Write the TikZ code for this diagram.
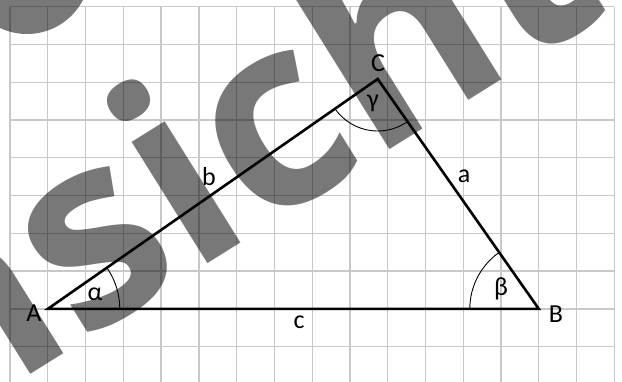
\documentclass[tikz,border=0pt]{standalone}
\usepackage{fontspec}
\setmainfont{Carlito}
\newfontfamily\wmfont{Open Sans}
\usetikzlibrary{angles}
\definecolor{gridgray}{HTML}{C8C8C8}
\begin{document}
\begin{tikzpicture}[x=1pt,y=1pt,
  gridline/.style={draw=gridgray, line width=1.3pt},
  side/.style={line width=2.6pt, line join=miter, line cap=butt},
  anglearc/.style={draw, line width=0.9pt},
  lbl/.style={font=\fontsize{26}{30}\selectfont, inner sep=0pt},
  wm/.style={font=\wmfont\fontsize{262}{262}\selectfont\bfseries, text=black, text opacity=0.53, inner sep=0pt}]
\useasboundingbox (0,0) rectangle (622,-382);
\clip (0,0) rectangle (622,-382);
\fill[white] (0,0) rectangle (622,-382);
% grid
\foreach \i in {0,...,16} \draw[gridline] ({10+37.77*\i},-6.7) -- ({10+37.77*\i},-382);
\foreach \j in {0,...,9} \draw[gridline] (10,{-6.7-37.77*\j}) -- (614.3,{-6.7-37.77*\j});
% triangle
\coordinate (A) at (47.8,-308.9);
\coordinate (B) at (538.8,-308.9);
\coordinate (C) at (377.7,-79);
\draw[side] (A) -- (B) -- (C) -- cycle;
\pic[anglearc, angle radius=72pt] {angle = B--A--C};
\pic[anglearc, angle radius=69pt] {angle = C--B--A};
\pic[anglearc, angle radius=52pt] {angle = A--C--B};
% labels
\node[lbl] (lA) at (34,-313) {A};
\node[lbl] (lB) at (556,-314) {B};
\node[lbl] (lC) at (378,-63) {C};
\node[lbl] (la) at (464,-176) {a};
\node[lbl] (lb) at (209,-177) {b};
\node[lbl] (lc) at (299,-322) {c};
\node[lbl] (lal) at (95,-294) {α};
\node[lbl] (lbe) at (501,-289) {β};
\node[lbl] (lga) at (373,-103) {γ};
% watermark
\node[wm, rotate=32, anchor=base] (wmk) at (198,-270) {Ansicht};
\fill[black, opacity=0.53] (27,29) circle (63);
\end{tikzpicture}
\end{document}
